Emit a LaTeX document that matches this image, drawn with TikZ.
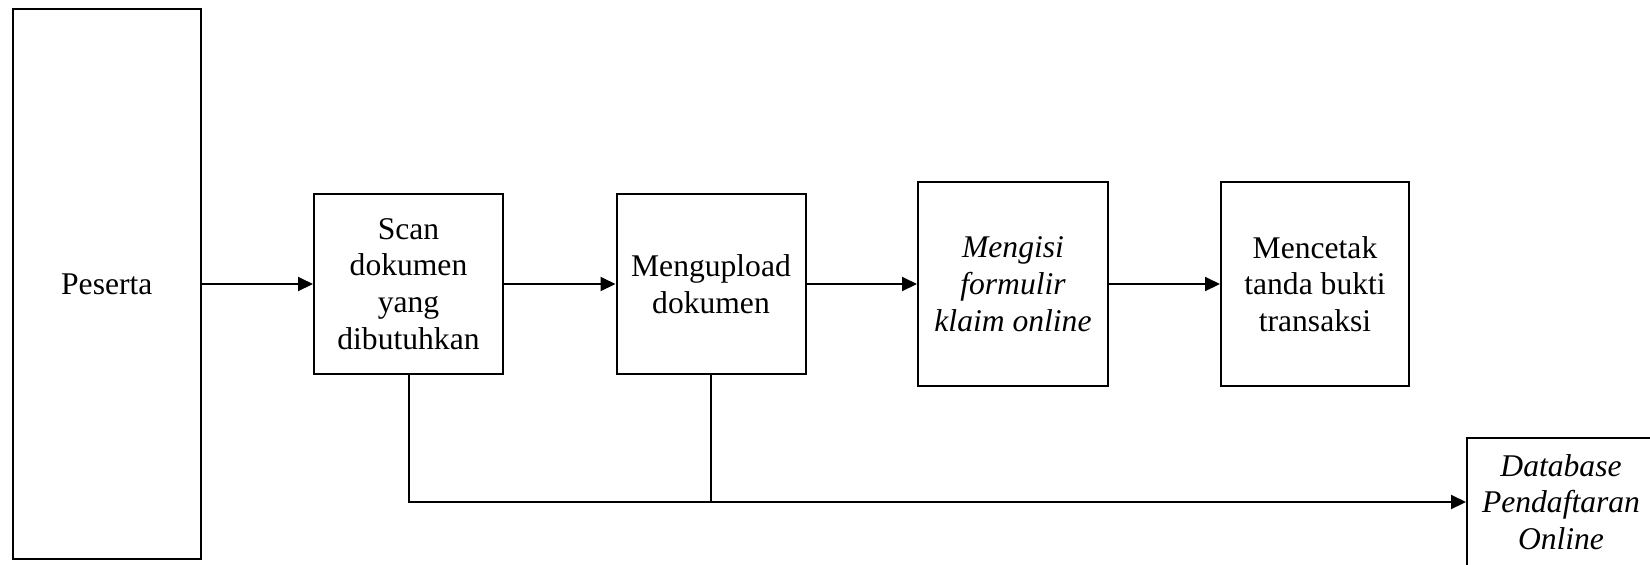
\documentclass[tikz,border=0pt]{standalone}
\usepackage{fontspec}
\setmainfont{Liberation Serif}
\usetikzlibrary{arrows.meta}
\begin{document}
\begin{tikzpicture}[x=0.5pt,y=-0.5pt,
  box/.style={draw=black, line width=1pt, align=center, inner sep=0pt,
    font=\fontsize{15.8}{18.35}\selectfont},
  link/.style={draw=black, line width=1pt},
  arr/.style={link, -{Triangle[length=7.5pt,width=7pt]}}]
% canvas: fixed page size, contents cut at the page edges
\useasboundingbox (0,0) rectangle (1650,564);
\fill[white] (0,0) rectangle (1650,564);
\clip (0,0) rectangle (1650,564);

% actor and process steps
\node[box, minimum width=94.2pt, minimum height=274.6pt] (peserta) at (106.8,284) {Peserta};
\node[box, minimum width=94.5pt, minimum height=89.7pt] (scan) at (408.5,284)
  {Scan\\dokumen\\yang\\dibutuhkan};
\node[box, minimum width=94.5pt, minimum height=89.7pt] (upload) at (711,284)
  {Mengupload\\dokumen};
\node[box, minimum width=95pt, minimum height=102pt] (isi) at (1013,284)
  {\itshape Mengisi\\\itshape formulir\\\itshape klaim online};
\node[box, minimum width=94pt, minimum height=102pt] (cetak) at (1315,284)
  {Mencetak\\tanda bukti\\transaksi};
% the store runs off the right and bottom edges of the page
\node[box, minimum width=94pt, minimum height=64pt] (db) at (1561,502)
  {\itshape Database\\\itshape Pendaftaran\\\itshape Online};

% main flow
\draw[arr] (peserta.east) -- (scan.west);
\draw[arr] (scan.east) -- (upload.west);
\draw[arr] (upload.east) -- (isi.west);
\draw[arr] (isi.east) -- (cetak.west);

% storage of uploaded documents
\draw[arr] (scan.south) |- (db.west);
\draw[link] (upload.south) -- (upload.south |- db.west);
\end{tikzpicture}
\end{document}
